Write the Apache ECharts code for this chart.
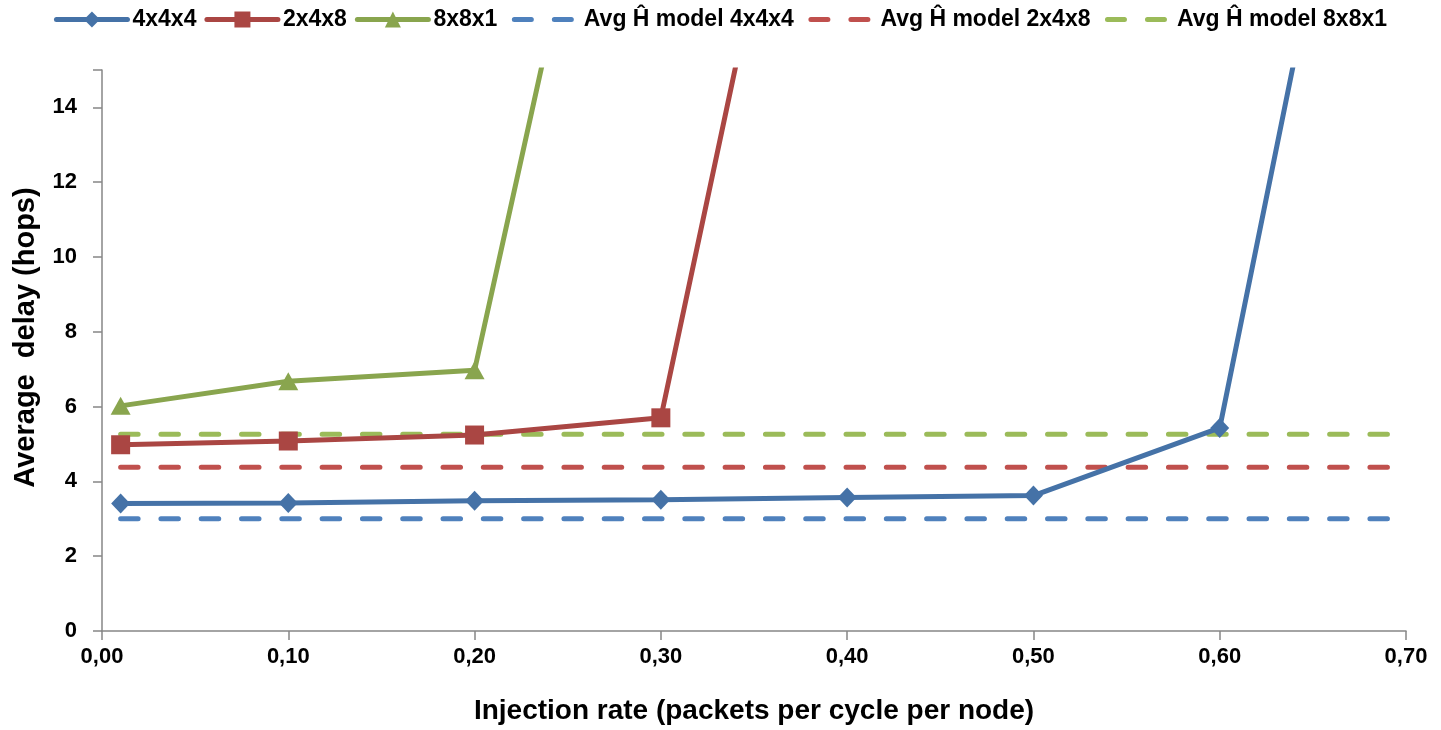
<!DOCTYPE html>
<html><head><meta charset="utf-8">
<script src="https://cdn.jsdelivr.net/npm/echarts@6/dist/echarts.min.js"></script>
<style>html,body{margin:0;padding:0;background:#fff}#c{width:1441px;height:730px}</style>
</head><body><div id="c"></div>
<script>
const rates = [0.01, 0.10, 0.20, 0.30, 0.40, 0.50, 0.60, 0.70];
const s444 = [3.41, 3.42, 3.48, 3.51, 3.57, 3.62, 5.43, 30.0];
const s248 = [4.98, 5.08, 5.24, 5.70, 29.1];
const s881 = [6.02, 6.68, 6.97, 29.5];
const avg444 = [3.0, 3.0, 3.0, 3.0, 3.0, 3.0, 3.0, 3.0];
const avg248 = [4.38, 4.38, 4.38, 4.38, 4.38, 4.38, 4.38, 4.38];
const avg881 = [5.26, 5.26, 5.26, 5.26, 5.26, 5.26, 5.26, 5.26];
const names = ['4x4x4', '2x4x8', '8x8x1', 'Avg Ĥ model 4x4x4', 'Avg Ĥ model 2x4x8', 'Avg Ĥ model 8x8x1'];
const xTitle = 'Injection rate (packets per cycle per node)';
const yTitle = 'Average  delay (hops)';

const FONT = '"Liberation Sans", Arial, sans-serif';
const pairs = (ys) => ys.map((y, i) => [rates[i], y]);

function solid(name, ys, color, symbol, size) {
  return {
    name, type: 'line', data: pairs(ys), clip: true,
    symbol, symbolSize: size, z: 3,
    lineStyle: { color, width: 5 },
    itemStyle: { color },
    emphasis: { disabled: true }
  };
}
function dashed(name, ys, color) {
  return {
    name, type: 'line', data: pairs(ys), clip: true, symbol: 'none', z: 2,
    lineStyle: { color, width: 5, type: [17.5, 22.8], cap: 'round' },
    itemStyle: { color },
    emphasis: { disabled: true }
  };
}
const solidLegend = (name) => ({
  name,
  lineStyle: { width: 5, type: 'solid', cap: 'round' }
});
const dashLegend = (name) => ({
  name,
  itemStyle: { color: 'rgba(0,0,0,0)', borderWidth: 0 },
  lineStyle: { type: [17, 23], dashOffset: 33.5, cap: 'round', width: 5 }
});

const chart = echarts.init(document.getElementById('c'), null, { renderer: 'canvas' });
chart.setOption({
  animation: false,
  backgroundColor: '#fff',
  textStyle: { fontFamily: FONT },
  legend: {
    top: 3, left: 'center', itemWidth: 71, itemHeight: 20, itemGap: 8,
    textStyle: { fontFamily: FONT, fontWeight: 'bold', fontSize: 23, color: '#000' },
    data: [solidLegend(names[0]), solidLegend(names[1]), solidLegend(names[2]),
           dashLegend(names[3]), dashLegend(names[4]), dashLegend(names[5])]
  },
  grid: { left: 102, right: 35, top: 70, bottom: 96, containLabel: false },
  xAxis: {
    type: 'value', min: 0, max: 0.7, interval: 0.1,
    name: xTitle,
    nameLocation: 'middle', nameGap: 66,
    nameTextStyle: { fontFamily: FONT, fontWeight: 'bold', fontSize: 28, color: '#000' },
    axisLine: { lineStyle: { color: '#868686', width: 1.5 } },
    axisTick: { show: true, length: 9, lineStyle: { color: '#868686', width: 1.5 } },
    axisLabel: { formatter: v => v.toFixed(2).replace('.', ','), fontFamily: FONT, fontWeight: 'bold', fontSize: 22, color: '#000', margin: 15 },
    splitLine: { show: false }
  },
  yAxis: {
    type: 'value', min: 0, max: 15, interval: 2,
    name: yTitle,
    nameLocation: 'middle', nameGap: 62, nameRotate: 90,
    nameTextStyle: { fontFamily: FONT, fontWeight: 'bold', fontSize: 29, color: '#000', padding: [0, 0, 0, 26] },
    axisLine: { show: true, lineStyle: { color: '#868686', width: 1.5 } },
    axisTick: { show: true, length: 9, lineStyle: { color: '#868686', width: 1.5 } },
    axisLabel: { fontFamily: FONT, fontWeight: 'bold', fontSize: 22, color: '#000', margin: 25,
      formatter: v => (v > 14 ? '' : String(v)) },
    splitLine: { show: false }
  },
  series: [
    solid(names[0], s444, '#4572A7', 'diamond', [19, 20]),
    solid(names[1], s248, '#AA4643', 'rect', [19, 19]),
    solid(names[2], s881, '#89A54E', 'triangle', [20, 18]),
    dashed(names[3], avg444, '#4F81BD'),
    dashed(names[4], avg248, '#C0504D'),
    dashed(names[5], avg881, '#9BBB59')
  ]
});
</script></body></html>
